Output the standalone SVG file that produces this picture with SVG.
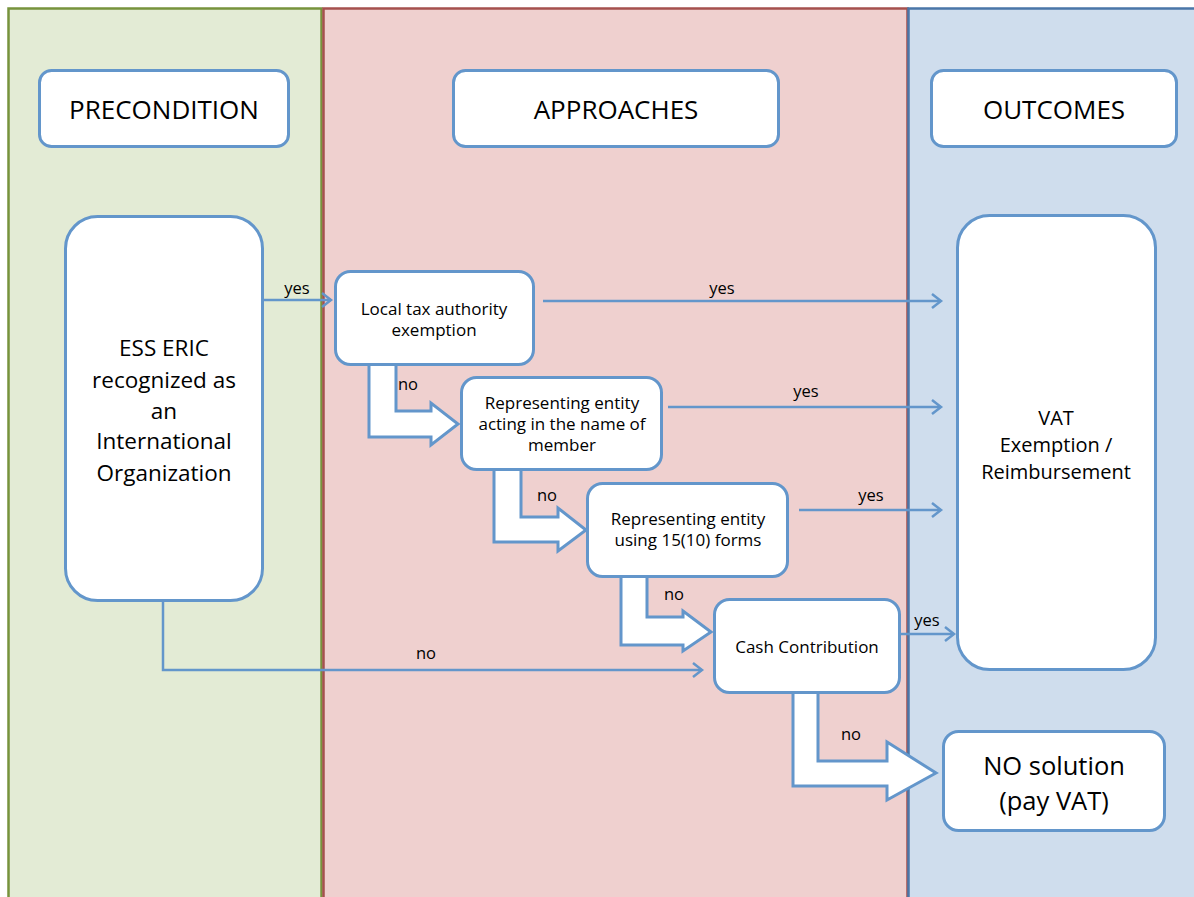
<svg xmlns="http://www.w3.org/2000/svg" width="1194" height="897" viewBox="0 0 1194 897">
<style>
.box{fill:#fff;stroke:#6396CB;stroke-width:3}
.blk{fill:#fff;stroke:#6396CB;stroke-width:3;stroke-linejoin:miter}
.ln{fill:none;stroke:#6396CB;stroke-width:2.5}
text{font-family:"Open Sans","Liberation Sans",sans-serif;fill:#000;text-anchor:middle}
.hd{font-size:26px}
.nd{font-size:17px}
.lb{font-size:16.5px}
</style>
<defs>
<marker id="ah" markerWidth="14" markerHeight="16" refX="11" refY="8" orient="auto" markerUnits="userSpaceOnUse">
<path d="M2,1 L11,8 L2,15" fill="none" stroke="#6396CB" stroke-width="2.5"/>
</marker>
</defs>
<g id="lanes">
<rect x="0" y="0" width="1194" height="897" fill="#fff"/>
<rect x="8.5" y="8.5" width="313" height="900" fill="#E3EBD5" stroke="#77933C" stroke-width="2.5"/>
<rect x="323.5" y="8.5" width="584" height="900" fill="#EFD0CF" stroke="#A5504E" stroke-width="2.5"/>
<rect x="908.5" y="8.5" width="300" height="900" fill="#CFDDED" stroke="#4A76A8" stroke-width="2.5"/>
</g>
<g id="connectors">
<path class="ln" d="M262,300 L331,300" marker-end="url(#ah)"/>
<path class="ln" d="M543,301 L941,301" marker-end="url(#ah)"/>
<path class="ln" d="M668,407 L941,407" marker-end="url(#ah)"/>
<path class="ln" d="M799,510 L941,510" marker-end="url(#ah)"/>
<path class="ln" d="M901,634 L954,634" marker-end="url(#ah)"/>
<path class="ln" d="M163,600 L163,670 L702,670" marker-end="url(#ah)"/>
<path class="blk" d="M369,362 L369,437 L431,437 L431,445 L458,424 L431,403 L431,411 L396,411 L396,362"/>
<path class="blk" d="M494,468 L494,542 L558,542 L558,551 L586,530 L558,508 L558,517 L521,517 L521,468"/>
<path class="blk" d="M621,575 L621,645 L683,645 L683,651 L711,632 L683,611 L683,617 L647,617 L647,575"/>
<path class="blk" d="M793,691 L793,786 L887,786 L887,800 L936,773 L887,742 L887,761 L818,761 L818,691"/>
<text class="lb" x="297" y="294">yes</text>
<text class="lb" x="722" y="294">yes</text>
<text class="lb" x="806" y="397">yes</text>
<text class="lb" x="871" y="501">yes</text>
<text class="lb" x="927" y="626">yes</text>
<text class="lb" x="426" y="659">no</text>
<text class="lb" x="408" y="390">no</text>
<text class="lb" x="547" y="501">no</text>
<text class="lb" x="674" y="600">no</text>
<text class="lb" x="851" y="740">no</text>
</g>
<g id="precondition"><rect class="box" x="39.5" y="70.5" width="249" height="76" rx="12"/><text class="hd" x="164" y="119">PRECONDITION</text></g>
<g id="approaches"><rect class="box" x="453.5" y="70.5" width="325" height="76" rx="12"/><text class="hd" x="616" y="119">APPROACHES</text></g>
<g id="outcomes"><rect class="box" x="931.5" y="70.5" width="245" height="76" rx="12"/><text class="hd" x="1054" y="119">OUTCOMES</text></g>
<g id="esseric"><rect class="box" x="65.5" y="216.5" width="197" height="384" rx="32"/>
<text style="font-size:22.5px" x="164"><tspan x="164" y="356">ESS ERIC</tspan><tspan x="164" y="388">recognized as</tspan><tspan x="164" y="419">an</tspan><tspan x="164" y="449">International</tspan><tspan x="164" y="481">Organization</tspan></text></g>
<g id="localtax"><rect class="box" x="335.5" y="271.5" width="198" height="93" rx="15"/>
<text class="nd"><tspan x="434" y="315">Local tax authority</tspan><tspan x="434" y="336">exemption</tspan></text></g>
<g id="repname"><rect class="box" x="461.5" y="377.5" width="200" height="92" rx="15"/>
<text class="nd"><tspan x="562" y="409">Representing entity</tspan><tspan x="562" y="430">acting in the name of</tspan><tspan x="562" y="451">member</tspan></text></g>
<g id="repforms"><rect class="box" x="587.5" y="483.5" width="200" height="93" rx="15"/>
<text class="nd"><tspan x="688" y="525">Representing entity</tspan><tspan x="688" y="546">using 15(10) forms</tspan></text></g>
<g id="cash"><rect class="box" x="714.5" y="599.5" width="185" height="93" rx="15"/>
<text class="nd" x="807" y="653">Cash Contribution</text></g>
<g id="vat"><rect class="box" x="957.5" y="215.5" width="198" height="454" rx="32"/>
<text style="font-size:20px"><tspan x="1056" y="425">VAT</tspan><tspan x="1056" y="452">Exemption /</tspan><tspan x="1056" y="479">Reimbursement</tspan></text></g>
<g id="nosolution"><rect class="box" x="943.5" y="731.5" width="221" height="99" rx="15"/>
<text style="font-size:25.5px"><tspan x="1054" y="775">NO solution</tspan><tspan x="1054" y="810">(pay VAT)</tspan></text></g>
</svg>
